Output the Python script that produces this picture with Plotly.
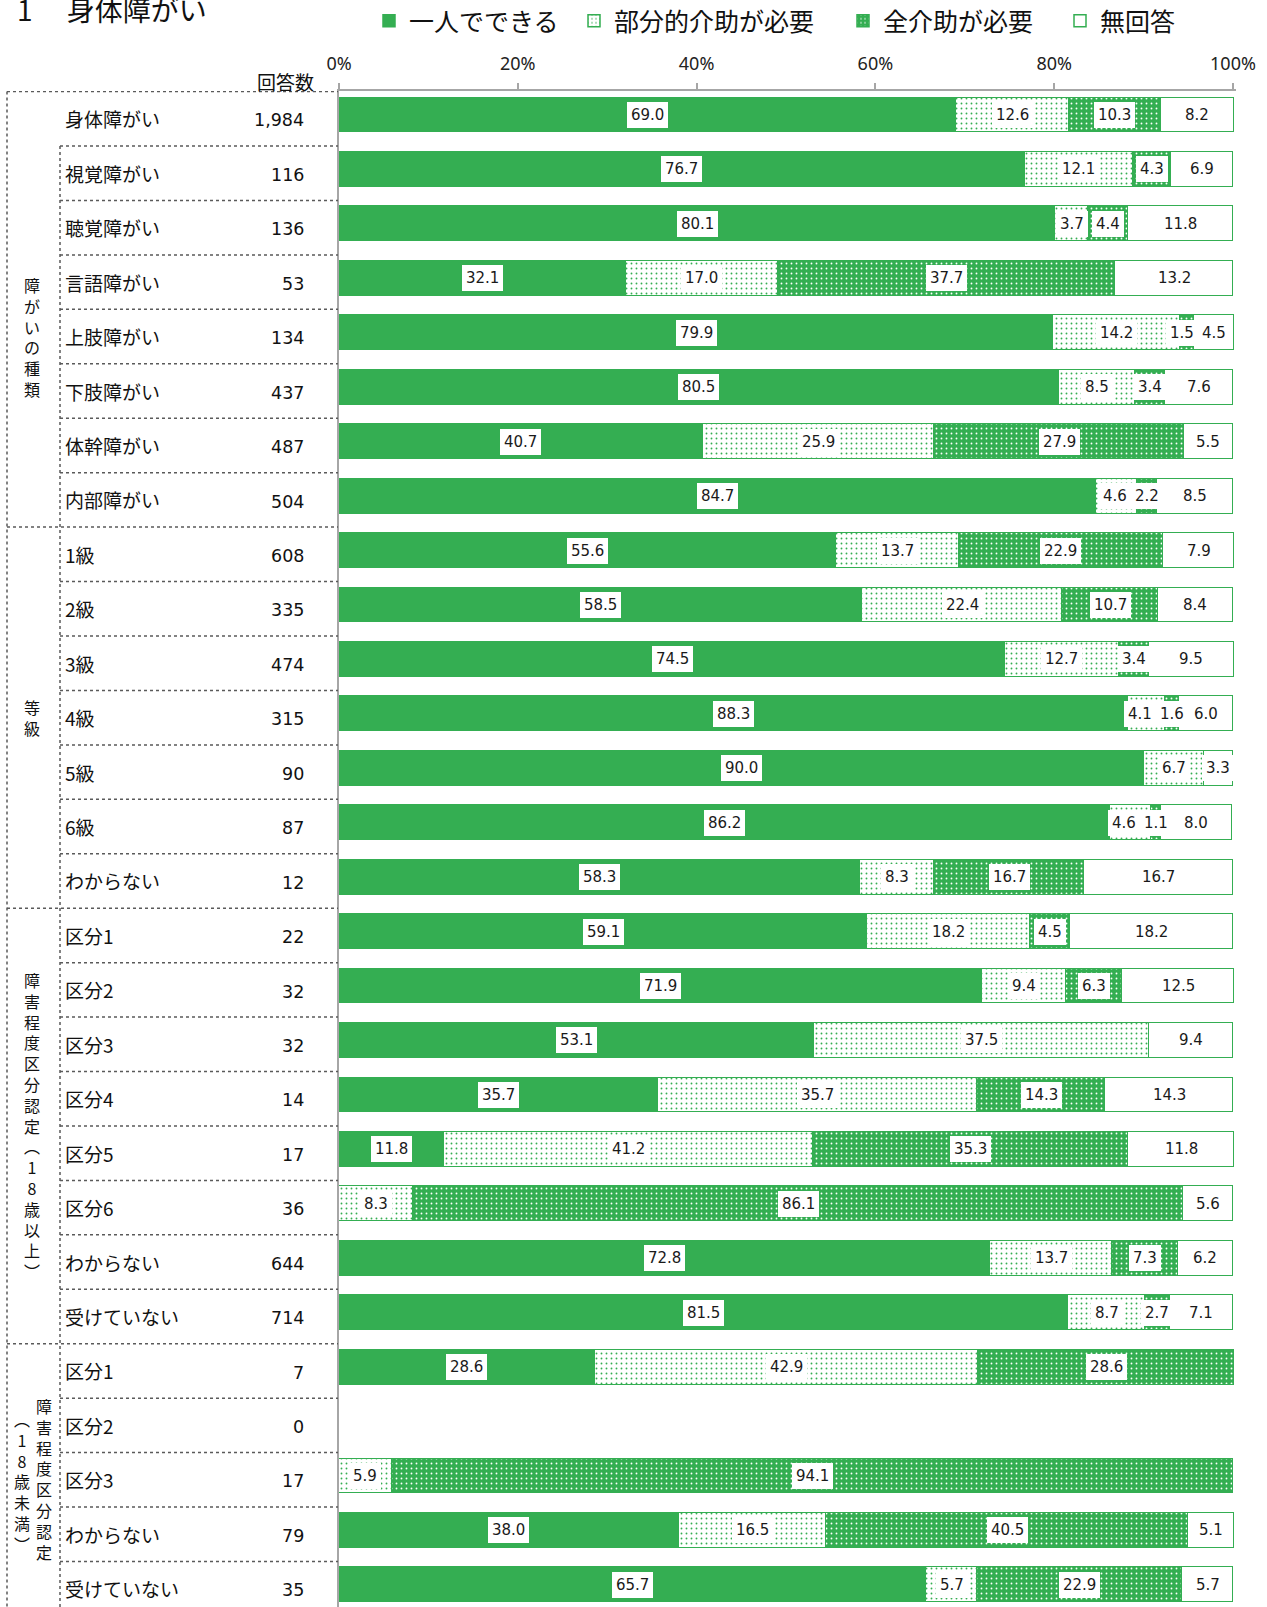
import plotly.graph_objects as go

# ---- data -------------------------------------------------------------
row_labels = [
    "身体障がい",
    "視覚障がい", "聴覚障がい", "言語障がい", "上肢障がい", "下肢障がい", "体幹障がい", "内部障がい",
    "1級", "2級", "3級", "4級", "5級", "6級", "わからない",
    "区分1", "区分2", "区分3", "区分4", "区分5", "区分6", "わからない", "受けていない",
    "区分1", "区分2", "区分3", "わからない", "受けていない",
]
counts = [
    "1,984",
    "116", "136", "53", "134", "437", "487", "504",
    "608", "335", "474", "315", "90", "87", "12",
    "22", "32", "32", "14", "17", "36", "644", "714",
    "7", "0", "17", "79", "35",
]
alone = [69.0, 76.7, 80.1, 32.1, 79.9, 80.5, 40.7, 84.7,
         55.6, 58.5, 74.5, 88.3, 90.0, 86.2, 58.3,
         59.1, 71.9, 53.1, 35.7, 11.8, 0.0, 72.8, 81.5,
         28.6, None, 0.0, 38.0, 65.7]
partial = [12.6, 12.1, 3.7, 17.0, 14.2, 8.5, 25.9, 4.6,
           13.7, 22.4, 12.7, 4.1, 6.7, 4.6, 8.3,
           18.2, 9.4, 37.5, 35.7, 41.2, 8.3, 13.7, 8.7,
           42.9, None, 5.9, 16.5, 5.7]
full_help = [10.3, 4.3, 4.4, 37.7, 1.5, 3.4, 27.9, 2.2,
             22.9, 10.7, 3.4, 1.6, 0.0, 1.1, 16.7,
             4.5, 6.3, 0.0, 14.3, 35.3, 86.1, 7.3, 2.7,
             28.6, None, 94.1, 40.5, 22.9]
no_answer = [8.2, 6.9, 11.8, 13.2, 4.5, 7.6, 5.5, 8.5,
             7.9, 8.4, 9.5, 6.0, 3.3, 8.0, 16.7,
             18.2, 12.5, 9.4, 14.3, 11.8, 5.6, 6.2, 7.1,
             0.0, None, 0.0, 5.1, 5.7]
series_names = ["一人でできる", "部分的介助が必要", "全介助が必要", "無回答"]
tick_values = [0, 20, 40, 60, 80, 100]
tick_labels = ["0%", "20%", "40%", "60%", "80%", "100%"]

# row groups: (first row, last row, vertical caption)
groups = [
    (1, 7, "障がいの種類"),
    (8, 14, "等級"),
    (15, 22, "障害程度区分認定︵18歳以上︶"),
    (23, 27, None),
]

# ---- styling ----------------------------------------------------------
W, H = 1267, 1607
GREEN = "#34AE52"
TABLE_LINE = "#5A5A5A"
AXIS_GRAY = "#A6A6A6"
JP = "Noto Sans CJK JP"

X0_PX, X100_PX = 339, 1233          # pixel span of 0%..100%
PX_PER_UNIT = (X100_PX - X0_PX) / 100
LABEL_GAP_PX = 32                   # minimum spacing between value-label centres

rows = list(range(len(row_labels)))


def px(x):
    return x / W


def py(y):
    return 1 - y / H


fig = go.Figure()

styles = [
    dict(color=GREEN, pattern=dict(shape="")),
    dict(color="white", pattern=dict(shape=".", fgcolor=GREEN, bgcolor="white",
                                     size=5, solidity=0.11, fillmode="replace")),
    dict(color=GREEN, pattern=dict(shape=".", fgcolor="white", bgcolor=GREEN,
                                   size=5, solidity=0.11, fillmode="replace")),
    dict(color="white", pattern=dict(shape="")),
]
all_series = [alone, partial, full_help, no_answer]
legend_ids = ["legend", "legend2", "legend3", "legend4"]
legend_x = [369, 574, 843, 1060]

for name, vals, st, lid in zip(series_names, all_series, styles, legend_ids):
    fig.add_trace(go.Bar(
        y=rows, x=vals, name=name, orientation="h",
        width=0.64, legend=lid,
        marker=dict(color=st["color"], pattern=st["pattern"],
                    line=dict(color=GREEN, width=1.5)),
        hoverinfo="skip",
    ))

annotations = []

# value labels in white boxes at the middle of each segment;
# crowded neighbours are nudged leftwards so the boxes stay readable
min_gap = LABEL_GAP_PX / PX_PER_UNIT
for i in rows:
    base = 0.0
    items = []
    for vals in all_series:
        v = vals[i]
        if v is None:
            continue
        if v > 0:
            items.append([base + v / 2, v])
        base += v
    for j in range(len(items) - 2, -1, -1):
        if items[j + 1][0] - items[j][0] < min_gap:
            items[j][0] = items[j + 1][0] - min_gap
    for xc, v in items:
        annotations.append(dict(
            x=xc, y=i, xref="x", yref="y",
            text=f"{v:.1f}", showarrow=False,
            font=dict(family="DejaVu Sans", size=15, color="#1a1a1a"),
            bgcolor="white", borderpad=4, borderwidth=0,
        ))

# table text: row labels and respondent counts
for i in rows:
    annotations.append(dict(
        x=px(63), y=i + 0.07, xref="paper", yref="y", xanchor="left", yanchor="middle",
        text=row_labels[i], showarrow=False, font=dict(family=JP, size=19, color="#111"),
    ))
    annotations.append(dict(
        x=px(306), y=i + 0.1, xref="paper", yref="y", xanchor="right", yanchor="middle",
        text=counts[i], showarrow=False,
        font=dict(family="DejaVu Sans", size=17.5, color="#111"),
    ))

annotations.append(dict(
    x=px(316), y=py(82), xref="paper", yref="paper", xanchor="right", yanchor="middle",
    text="回答数", showarrow=False, font=dict(family=JP, size=19, color="#111"),
))


def vertical(s):
    return "<br>".join(list(s))


# vertical group captions
for first, last, cap in groups:
    if cap is None:
        continue
    annotations.append(dict(
        x=px(32), y=(first + last) / 2 + 0.07, xref="paper", yref="y",
        xanchor="center", yanchor="middle", text=vertical(cap), showarrow=False,
        font=dict(family=JP, size=16, color="#111"),
    ))
# under-18 group caption in two columns
annotations.append(dict(
    x=px(22), y=25.1, xref="paper", yref="y", xanchor="center", yanchor="middle",
    text="︵<br>1<br>8<br>歳<br>未<br>満<br>︶", showarrow=False,
    font=dict(family=JP, size=16, color="#111"),
))
annotations.append(dict(
    x=px(44), y=25.05, xref="paper", yref="y", xanchor="center", yanchor="middle",
    text=vertical("障害程度区分認定"), showarrow=False,
    font=dict(family=JP, size=16, color="#111"),
))

# title
annotations.append(dict(
    x=px(15), y=py(9), xref="paper", yref="paper", xanchor="left", yanchor="middle",
    text="1　 身体障がい", showarrow=False, font=dict(family=JP, size=28, color="#111"),
))

# ---- table grid (dotted) ---------------------------------------------
shapes = []
ROW_TOP = -0.43
X_OUT, X_MID, X_END = px(7), px(60), px(338)
group_starts = {g[0] for g in groups[1:]}
last_edge = len(rows) - 1 + 0.57 + 0.2
grid_line = dict(color=TABLE_LINE, width=1.5, dash="dot")

shapes.append(dict(type="line", xref="paper", yref="y", x0=X_OUT, x1=X_END,
                   y0=ROW_TOP, y1=ROW_TOP, line=grid_line))
for k in range(1, len(rows)):
    yk = k + ROW_TOP
    x0 = X_OUT if k in group_starts else X_MID
    shapes.append(dict(type="line", xref="paper", yref="y", x0=x0, x1=X_END,
                       y0=yk, y1=yk, line=grid_line))
shapes.append(dict(type="line", xref="paper", yref="y", x0=X_OUT, x1=X_OUT,
                   y0=ROW_TOP, y1=last_edge, line=grid_line))
shapes.append(dict(type="line", xref="paper", yref="y", x0=X_MID, x1=X_MID,
                   y0=1 + ROW_TOP, y1=last_edge, line=grid_line))

# ---- layout -----------------------------------------------------------
legend_common = dict(
    xanchor="left", y=py(21), yanchor="middle",
    font=dict(family=JP, size=25, color="#111"),
    bgcolor="rgba(0,0,0,0)", borderwidth=0,
)
legends = {lid: dict(x=px(lx), **legend_common) for lid, lx in zip(legend_ids, legend_x)}

fig.update_layout(
    width=W, height=H,
    margin=dict(l=0, r=0, t=0, b=0, autoexpand=False),
    paper_bgcolor="white", plot_bgcolor="white",
    barmode="stack", bargap=0,
    showlegend=True,
    xaxis=dict(
        domain=[px(X0_PX), px(X0_PX + (X100_PX - X0_PX) * 1.003)],
        range=[0, 100.3], side="top",
        tickvals=tick_values, ticktext=tick_labels,
        ticks="outside", ticklen=6, tickcolor=AXIS_GRAY, tickwidth=1.5,
        ticklabelstandoff=6,
        showline=True, linecolor=AXIS_GRAY, linewidth=1.5,
        showgrid=False, zeroline=False, fixedrange=True, automargin=False,
        tickfont=dict(family="Noto Sans", size=18, color="#222"),
    ),
    yaxis=dict(
        domain=[0, py(91)],
        range=[27.406, -0.441],
        showticklabels=False, ticks="",
        showline=True, linecolor=AXIS_GRAY, linewidth=1.5,
        showgrid=False, zeroline=False, fixedrange=True, automargin=False,
    ),
    annotations=annotations,
    shapes=shapes,
    **legends,
)

fig.write_html("out.html")
